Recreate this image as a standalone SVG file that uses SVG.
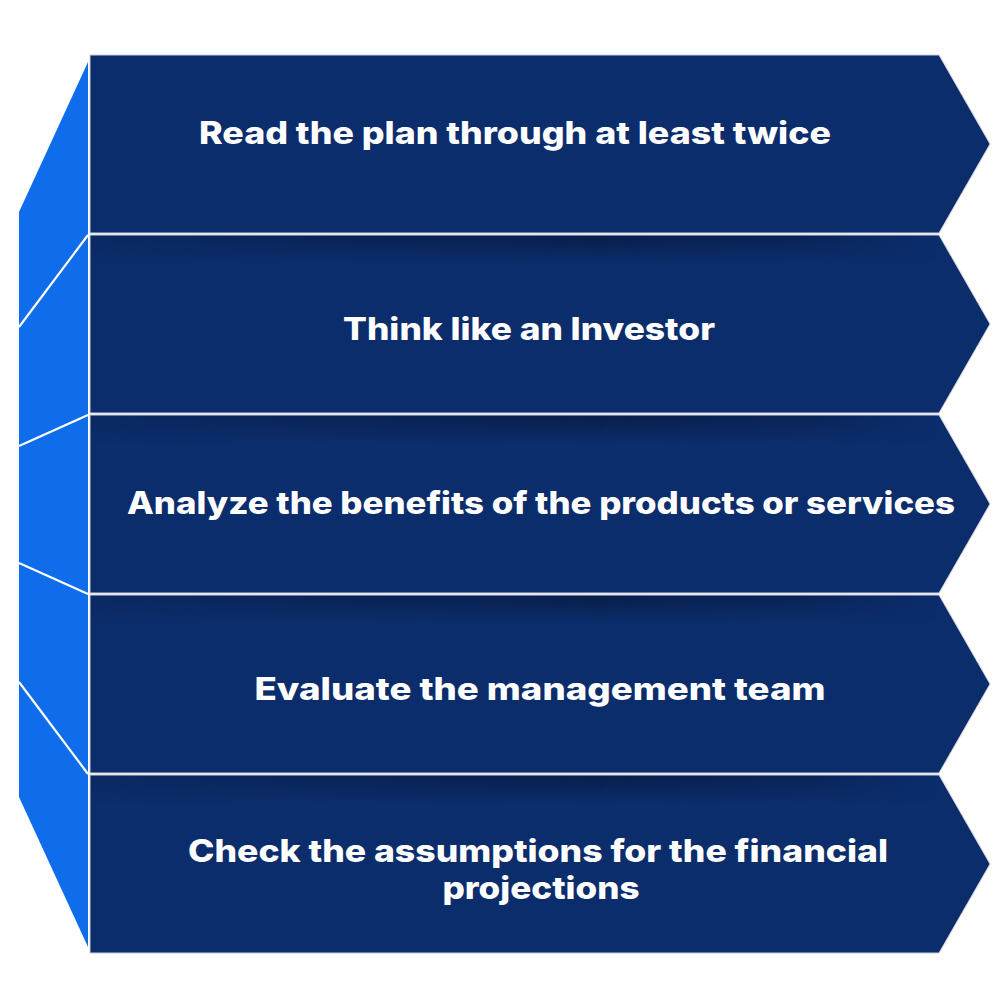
<svg xmlns="http://www.w3.org/2000/svg" width="1000" height="1000" viewBox="0 0 1000 1000">
<defs>
<style>
.band{fill:#0c2d6c;stroke:#c9cdd6;stroke-width:1}
.side{fill:#0f6cea}
.div{stroke:#ffffff;stroke-width:2.2;fill:none}
.lbl{font-family:Inter,"Open Sans","Liberation Sans",sans-serif;font-weight:800;font-size:31px;fill:#ffffff;text-anchor:middle}
.shade{fill:url(#sh)}
</style>
<linearGradient id="sh" x1="0" y1="0" x2="0" y2="1">
<stop offset="0" stop-color="#061638" stop-opacity="0.65"/>
<stop offset="1" stop-color="#061638" stop-opacity="0"/>
</linearGradient>
<linearGradient id="shx" x1="0" y1="0" x2="1" y2="0">
<stop offset="0" stop-color="#fff" stop-opacity="0.3"/>
<stop offset="0.6" stop-color="#fff" stop-opacity="1"/>
<stop offset="0.85" stop-color="#fff" stop-opacity="0.6"/>
<stop offset="1" stop-color="#fff" stop-opacity="0"/>
</linearGradient>
<mask id="mx"><rect x="90" y="0" width="849" height="1000" fill="url(#shx)"/></mask>
</defs>
<rect width="1000" height="1000" fill="#ffffff"/>
<g id="side">
<polygon class="side" points="88,62 19,212 19,797 88,947"/>
</g>
<g id="connectors">
<line class="div" x1="88" y1="235" x2="19" y2="327"/>
<line class="div" x1="88" y1="415" x2="19" y2="446"/>
<line class="div" x1="19" y1="563" x2="88" y2="594"/>
<line class="div" x1="19" y1="682" x2="88" y2="774"/>
</g>
<g id="step1">
<polygon class="band" points="90,55 939,55 990,144 939,233 90,233"/>
<text class="lbl" x="515" y="144" textLength="632" lengthAdjust="spacingAndGlyphs">Read the plan through at least twice</text>
</g>
<g id="step2">
<polygon class="band" points="90,235 939,235 990,324 939,413 90,413"/>
<rect class="shade" x="91" y="236" width="848" height="28" mask="url(#mx)"/>
<text class="lbl" x="529" y="340" textLength="372" lengthAdjust="spacingAndGlyphs">Think like an Investor</text>
</g>
<g id="step3">
<polygon class="band" points="90,415 939,415 990,504 939,593 90,593"/>
<rect class="shade" x="91" y="416" width="848" height="28" mask="url(#mx)"/>
<text class="lbl" x="541" y="514" textLength="828" lengthAdjust="spacingAndGlyphs">Analyze the benefits of the products or services</text>
</g>
<g id="step4">
<polygon class="band" points="90,595 939,595 990,684 939,773 90,773"/>
<rect class="shade" x="91" y="596" width="848" height="28" mask="url(#mx)"/>
<text class="lbl" x="540" y="700" textLength="571" lengthAdjust="spacingAndGlyphs">Evaluate the management team</text>
</g>
<g id="step5">
<polygon class="band" points="90,775 939,775 990,864 939,953 90,953"/>
<rect class="shade" x="91" y="776" width="848" height="28" mask="url(#mx)"/>
<text class="lbl" x="538" y="862" textLength="700" lengthAdjust="spacingAndGlyphs">Check the assumptions for the financial</text>
<text class="lbl" x="541" y="899" textLength="197" lengthAdjust="spacingAndGlyphs">projections</text>
</g>
</svg>
